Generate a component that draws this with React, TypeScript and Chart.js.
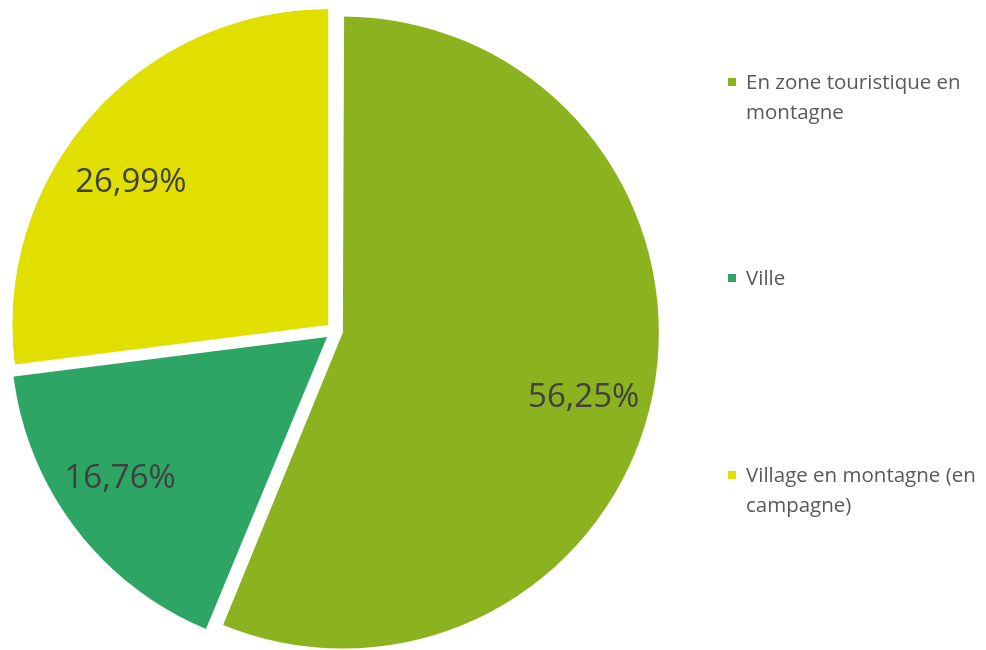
import React, { useEffect, useRef } from "react";
import { Chart, registerables } from "chart.js";

Chart.register(...registerables);

// ---- data ----
const categories = [
  "En zone touristique en montagne",
  "Ville",
  "Village en montagne (en campagne)",
];
const shares = [56.25, 16.76, 26.99];

// ---- style ----
const sliceColors = ["#8BB21F", "#2DA665", "#E0DF00"];
// translation of each exploded slice in px (Chart.js v4 arc translates by offset / 4)
const explodePx = [8, 10, 9];
const labelNudge = [
  [-4, 14],
  [-10, -11.5],
  [-11, 20],
];
const legendTops = [67, 263, 460];
const PIE_RADIUS = 316;
const LABEL_PX = 33;
const LABEL_FONT = `${LABEL_PX}px 'Open Sans'`;

const formatPct = (v: number) => v.toFixed(2).replace(".", ",") + "%";

// Draw each arc clipped to its own circle, so slices wider than 180° do not
// grow in radius when they are exploded (Chart.js enlarges them).
const explodeClipPlugin = {
  id: "explodeClip",
  beforeDatasetDraw(chart: any, args: any) {
    const ctx = chart.ctx;
    args.meta.data.forEach((arc: any) => {
      const { x, y, startAngle, endAngle, outerRadius } = arc.getProps(
        ["x", "y", "startAngle", "endAngle", "outerRadius"],
        true
      );
      const mid = (startAngle + endAngle) / 2;
      const t = (arc.options.offset || 0) / 4;
      ctx.save();
      ctx.beginPath();
      ctx.arc(x + Math.cos(mid) * t, y + Math.sin(mid) * t, outerRadius, 0, Math.PI * 2);
      ctx.clip();
      arc.draw(ctx);
      ctx.restore();
    });
    return false;
  },
};

const labelPlugin = {
  id: "sliceLabels",
  afterDatasetsDraw(chart: any) {
    const ctx = chart.ctx;
    const meta = chart.getDatasetMeta(0);
    meta.data.forEach((arc: any, i: number) => {
      const { x, y, startAngle, endAngle } = arc.getProps(
        ["x", "y", "startAngle", "endAngle"],
        true
      );
      const mid = (startAngle + endAngle) / 2;
      const r = 8 + PIE_RADIUS * 0.79;
      const px = x + Math.cos(mid) * r + labelNudge[i][0];
      const py = y + Math.sin(mid) * r + labelNudge[i][1];
      ctx.save();
      ctx.font = LABEL_FONT;
      ctx.fillStyle = "#404040";
      ctx.textAlign = "center";
      ctx.textBaseline = "alphabetic";
      ctx.fillText(formatPct(shares[i]), px, py + 0.357 * LABEL_PX);
      ctx.restore();
    });
  },
};

export default function App() {
  const canvasRef = useRef<HTMLCanvasElement | null>(null);

  useEffect(() => {
    if (!canvasRef.current) return;
    const chart = new Chart(canvasRef.current, {
      type: "pie",
      data: {
        labels: categories,
        datasets: [
          {
            data: shares,
            backgroundColor: sliceColors,
            borderWidth: 0,
            offset: explodePx.map((t) => t * 4),
          },
        ],
      },
      options: {
        animation: false,
        responsive: false,
        radius: PIE_RADIUS,
        layout: { padding: { left: 0, right: 316, top: 12, bottom: 0 } },
        plugins: {
          legend: { display: false },
          tooltip: { enabled: false },
          title: { display: false },
        },
        events: [],
      },
      plugins: [explodeClipPlugin, labelPlugin],
    } as any);
    return () => chart.destroy();
  }, []);

  return (
    <div
      style={{
        position: "absolute",
        left: 0,
        top: 0,
        width: 986,
        height: 650,
        background: "#ffffff",
        overflow: "hidden",
      }}
    >
      <canvas
        ref={canvasRef}
        width={986}
        height={650}
        style={{ position: "absolute", left: 0, top: 0, width: 986, height: 650 }}
      />
      {categories.map((c, i) => (
        <div
          key={c}
          style={{
            position: "absolute",
            left: 728,
            top: legendTops[i],
            width: 256,
            fontFamily: "'Open Sans', sans-serif",
            fontSize: "20.5px",
            lineHeight: "29.5px",
            color: "#595959",
          }}
        >
          <span
            style={{
              position: "absolute",
              left: 0,
              top: 11,
              width: 8,
              height: 8,
              background: sliceColors[i],
            }}
          />
          <div style={{ marginLeft: 18, width: 238 }}>{c}</div>
        </div>
      ))}
    </div>
  );
}
